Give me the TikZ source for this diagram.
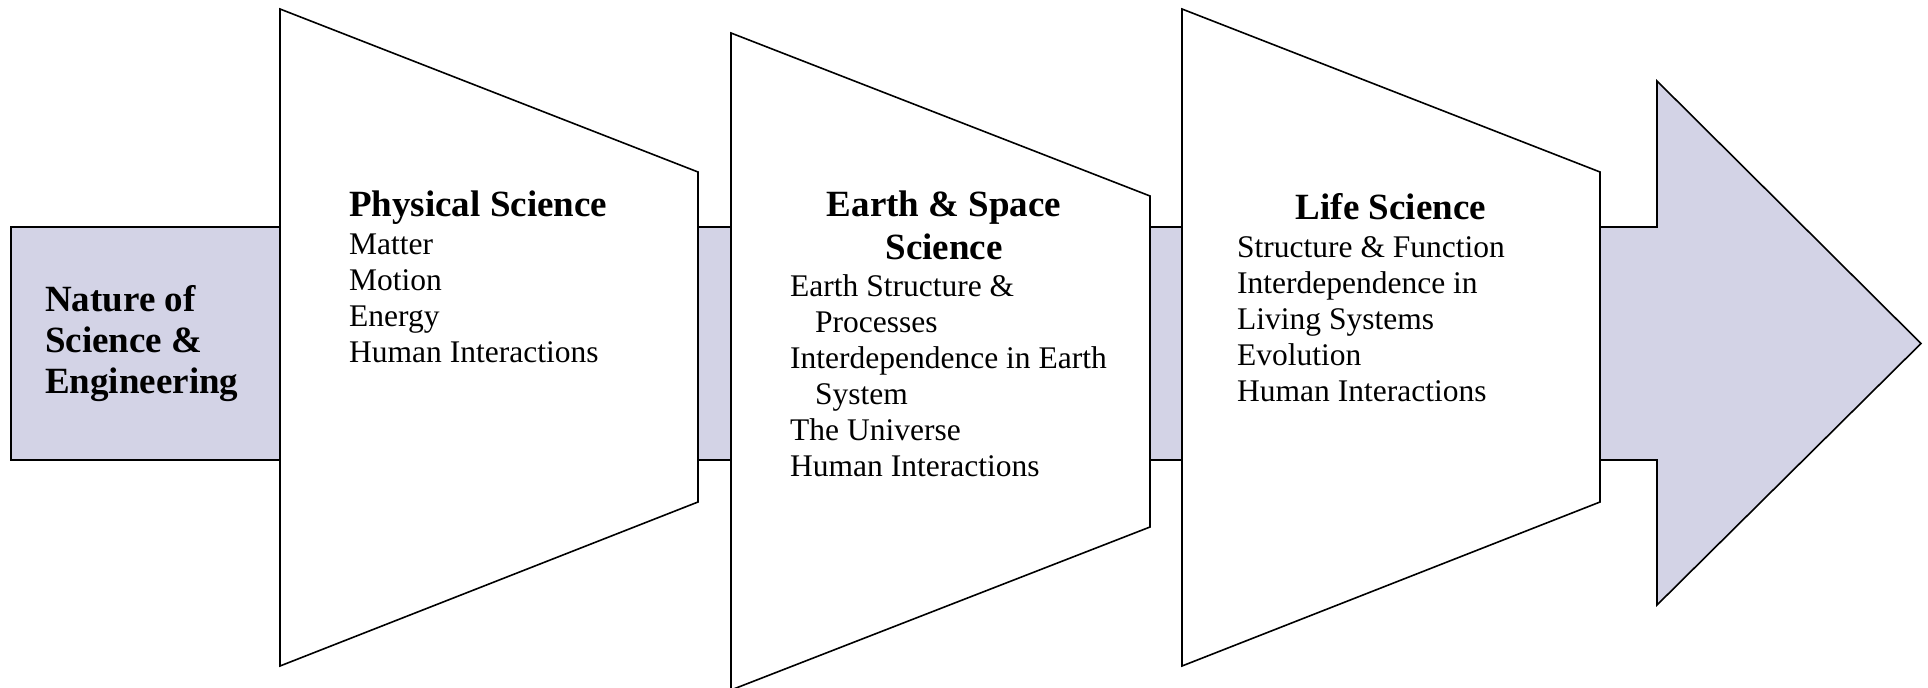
\documentclass[tikz,border=0pt]{standalone}
\usepackage{fontspec}
\setmainfont{Liberation Serif}
\definecolor{lav}{HTML}{D3D3E6}
\tikzset{
  band/.style={fill=lav,draw=black,line width=1.6pt,line join=miter},
  trap/.style={fill=white,draw=black,line width=1.6pt,line join=miter},
  head/.style={inner sep=0pt,font=\bfseries\fontsize{37}{41}\selectfont},
  items/.style={inner sep=0pt,align=left,anchor=base west,font=\fontsize{31.5}{36}\selectfont},
}
\begin{document}
\begin{tikzpicture}[x=1pt,y=-1pt]
\useasboundingbox (0,0) rectangle (1928,688);
% background band and left box
\draw[band] (11,227) rectangle (1600,460);
% arrow
\draw[band] (1600,227) -- (1657,227) -- (1657,81) -- (1921,343.5) -- (1657,605) -- (1657,460) -- (1600,460) -- cycle;
% trapezoids
\draw[trap] (280,9) -- (698,172) -- (698,502) -- (280,666) -- cycle;
\draw[trap] (731,33) -- (1150,196) -- (1150,527) -- (731,690) -- cycle;
\draw[trap] (1182,9) -- (1600,172) -- (1600,502) -- (1182,666) -- cycle;
% texts (base anchor of a multi-line node = baseline of its last line)
\node[head,align=left,anchor=base west] (nose) at (45,393) {Nature of\\Science \&\\Engineering};
\node[head,anchor=base west] (physh) at (349,216) {Physical Science};
\node[items] (physi) at (349,362) {Matter\\Motion\\Energy\\Human Interactions};
\node[head,align=center,anchor=base,font=\bfseries\fontsize{37}{43}\selectfont] (earthh) at (944,259) {Earth \& Space\\Science};
\node[items] (earthi) at (790,476) {Earth Structure \&\\\hspace*{25pt}Processes\\Interdependence in Earth\\\hspace*{25pt}System\\The Universe\\Human Interactions};
\node[head,anchor=base] (lifeh) at (1391,219) {Life Science};
\node[items] (lifei) at (1237,401) {Structure \& Function\\Interdependence in\\Living Systems\\Evolution\\Human Interactions};
\end{tikzpicture}
\end{document}
